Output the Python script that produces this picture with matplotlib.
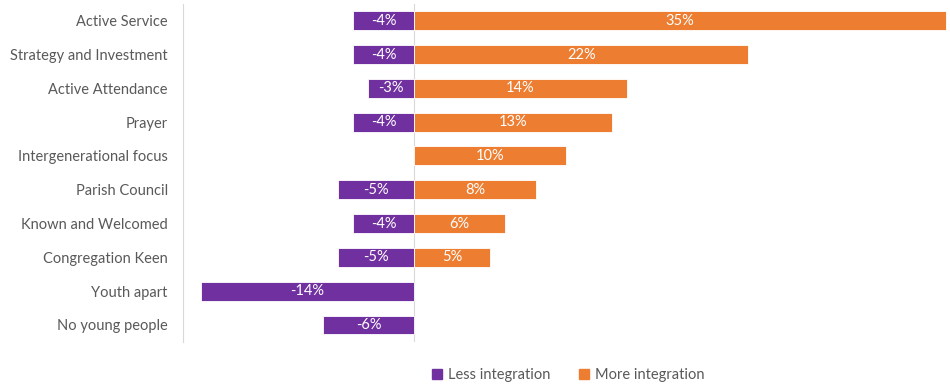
import matplotlib
matplotlib.use("Agg")
import matplotlib.pyplot as plt
from matplotlib.patches import Patch

categories = ["Active Service", "Strategy and Investment", "Active Attendance", "Prayer",
              "Intergenerational focus", "Parish Council", "Known and Welcomed",
              "Congregation Keen", "Youth apart", "No young people"]
less_integration = [-4, -4, -3, -4, None, -5, -4, -5, -14, -6]
more_integration = [35, 22, 14, 13, 10, 8, 6, 5, None, None]

PURPLE = "#7030A0"
ORANGE = "#ED7D31"
GREY_TXT = "#595959"

plt.rcParams["font.family"] = ["Lato", "DejaVu Sans"]

fig = plt.figure(figsize=(9.5, 3.85), dpi=100)
ax = fig.add_axes([0.1926, 0.112, 0.8074, 0.878])

y = list(range(len(categories)))
for i, (lo, hi) in enumerate(zip(less_integration, more_integration)):
    if lo is not None:
        ax.barh(i, lo, height=0.56, color=PURPLE, edgecolor="white", linewidth=0.6)
        ax.text(lo / 2, i, f"{lo}%", ha="center", va="center", color="white", fontsize=10.5)
    if hi is not None:
        ax.barh(i, hi, height=0.56, color=ORANGE, edgecolor="white", linewidth=0.6)
        ax.text(hi / 2, i, f"{hi}%", ha="center", va="center", color="white", fontsize=10.5)

ax.set_xlim(-15.2, 35.26)
ax.set_ylim(9.5, -0.5)
ax.axvline(0, color="#d9d9d9", lw=0.8, zorder=0)
ax.set_yticks(y)
ax.set_yticklabels(categories, fontsize=10.5, color=GREY_TXT)
ax.tick_params(axis="y", length=0, pad=11)
ax.set_xticks([])
for s in ["top", "right", "bottom"]:
    ax.spines[s].set_visible(False)
ax.spines["left"].set_color("#d9d9d9")
ax.spines["left"].set_linewidth(0.8)

handles = [Patch(color=PURPLE, label="Less integration"),
           Patch(color=ORANGE, label="More integration")]
fig.legend(handles=handles, loc="center", bbox_to_anchor=(0.598, 0.025), ncol=2,
           frameon=False, fontsize=10.5, handlelength=0.7, handleheight=0.7,
           handletextpad=0.4, columnspacing=2.0, labelcolor=GREY_TXT)

fig.savefig("out.png", dpi=100)
